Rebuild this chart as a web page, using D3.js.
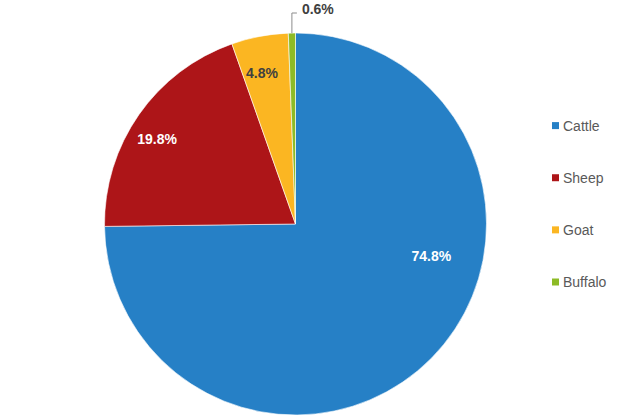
<!DOCTYPE html>
<html><head><meta charset="utf-8">
<script src="https://cdn.jsdelivr.net/npm/d3@7/dist/d3.min.js"></script>
<style>body{margin:0;background:#fff}svg{display:block}</style>
</head><body>
<script>
const categories = ["Cattle", "Sheep", "Goat", "Buffalo"];
const values = [74.8, 19.8, 4.8, 0.6];
const labels = ["74.8%", "19.8%", "4.8%", "0.6%"];
const colors = ["#2680c6", "#ad1518", "#fbb622", "#8dbb26"];

const W = 622, H = 419, cx = 295.5, cy = 224, R = 191;
const svg = d3.select("body").append("svg").attr("width", W).attr("height", H);
const g = svg.append("g").attr("transform", `translate(${cx},${cy})`);

const pie = d3.pie().sort(null).value(d => d)(values);
const arc = d3.arc().innerRadius(0).outerRadius(R);
g.selectAll("path").data(pie).enter().append("path")
  .attr("d", arc).attr("fill", (d, i) => colors[i])
  .attr("stroke", "#fff").attr("stroke-width", 0.6);

// inner labels
const labelStyle = [
  {r: 0.73, shift: -0.55, fill: "#fff"},
  {r: 0.85, shift: -0.06, fill: "#fff"},
  {r: 0.81, shift: -0.03, fill: "#404040"}
];
labelStyle.forEach((s, i) => {
  const d = pie[i];
  const a = (d.startAngle + d.endAngle) / 2 + s.shift;
  const x = Math.sin(a) * R * s.r, y = -Math.cos(a) * R * s.r;
  g.append("text").attr("x", x).attr("y", y).attr("dy", "0.35em")
    .attr("text-anchor", "middle").attr("fill", s.fill)
    .attr("font-family", "Liberation Sans, Arial, sans-serif")
    .attr("font-weight", "bold").attr("font-size", 14).text(labels[i]);
});

// outside label for Buffalo
{
  const d = pie[3];
  const a = (d.startAngle + d.endAngle) / 2;
  const x0 = Math.sin(a) * R, y0 = -Math.cos(a) * R;
  const yTop = -cy + 13;
  g.append("path").attr("d", `M${x0},${y0}V${yTop}H${x0 + 5}`)
    .attr("fill", "none").attr("stroke", "#8c8c8c").attr("stroke-width", 1);
  g.append("text").attr("x", x0 + 10).attr("y", -cy + 9).attr("dy", "0.35em")
    .attr("fill", "#404040").attr("font-family", "Liberation Sans, Arial, sans-serif")
    .attr("font-weight", "bold").attr("font-size", 14).text(labels[3]);
}

// legend
const ly = d3.scalePoint().domain(categories).range([125.6, 282]);
const lg = svg.append("g");
categories.forEach((c, i) => {
  lg.append("rect").attr("x", 552).attr("y", ly(c) - 3.5).attr("width", 7).attr("height", 7)
    .attr("fill", colors[i]);
  lg.append("text").attr("x", 563).attr("y", ly(c)).attr("dy", "0.35em")
    .attr("fill", "#595959").attr("font-family", "Liberation Sans, Arial, sans-serif")
    .attr("font-size", 14).text(c);
});
</script>
</body></html>
